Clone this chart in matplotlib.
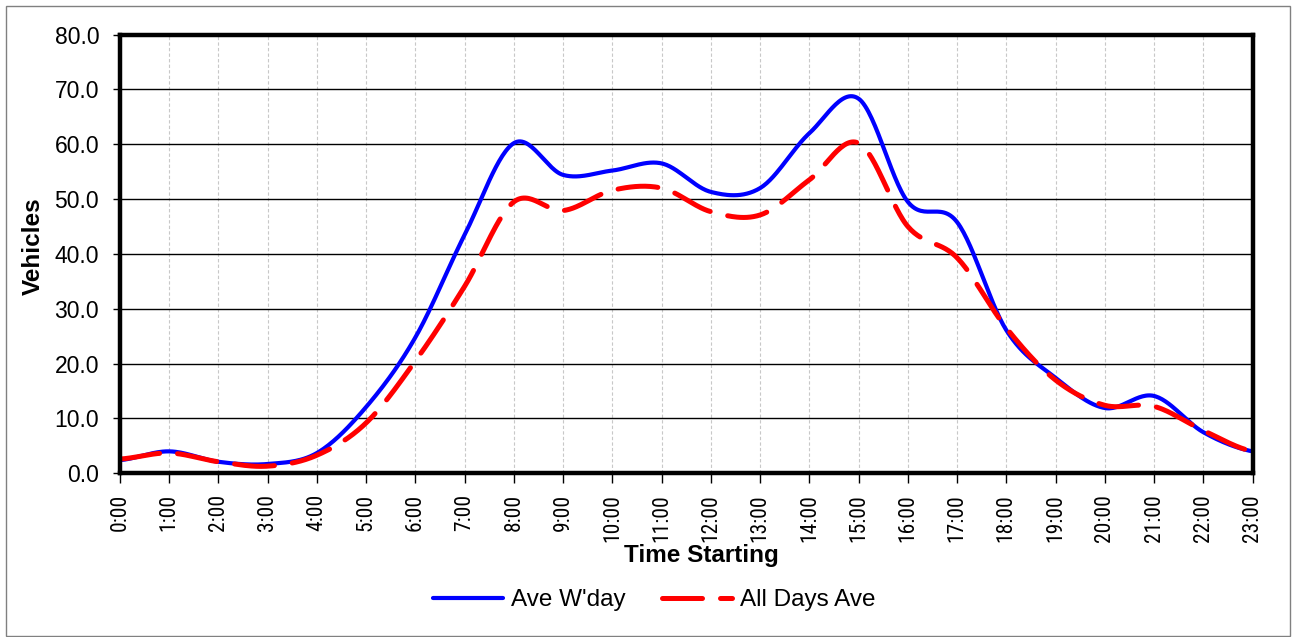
import numpy as np
import matplotlib
matplotlib.use("Agg")
import matplotlib.pyplot as plt
from matplotlib import font_manager
from matplotlib.patches import Rectangle
from matplotlib.lines import Line2D

# Hourly traffic counts (vehicles)
hours = list(range(24))
hour_labels = [f"{h}:00" for h in hours]
ave_weekday = [2.4, 4.0, 2.1, 1.7, 3.7, 12.1, 24.8, 43.5, 60.2, 54.4, 55.2, 56.5,
               51.3, 52.0, 62.0, 68.3, 49.5, 45.8, 26.1, 17.4, 11.9, 14.1, 7.5, 4.0]
all_days_ave = [2.6, 3.7, 2.1, 1.3, 3.3, 9.2, 20.5, 34.1, 49.5, 47.9, 51.6, 52.0,
                47.7, 47.1, 53.5, 60.2, 45.0, 39.3, 26.5, 17.0, 12.4, 12.2, 7.8, 4.0]

FONT = ["Liberation Sans", "DejaVu Sans"]

# pick a condensed face for the hour labels if one is installed
_installed = {f.name for f in font_manager.fontManager.ttflist}
_narrow = [n for n in ("Liberation Sans Narrow", "Arial Narrow", "Roboto Condensed",
                       "Open Sans Condensed", "DejaVu Sans Condensed") if n in _installed]
NARROW = (_narrow[:1] + FONT) if _narrow else FONT
NARROW_SIZE = 15.5 if _narrow else 13.5


def smooth(x, y, n=30):
    """Bezier curve through the points with 1/6 tangents (smoothed line)."""
    x = np.asarray(x, float)
    y = np.asarray(y, float)
    px = np.concatenate([[2 * x[0] - x[1]], x, [2 * x[-1] - x[-2]]])
    py = np.concatenate([[y[0]], y, [y[-1]]])
    xs, ys = [], []
    t = np.linspace(0, 1, n, endpoint=False)
    for i in range(1, len(px) - 2):
        x0, x1, x2, x3 = px[i - 1:i + 3]
        y0, y1, y2, y3 = py[i - 1:i + 3]
        cx1, cy1 = x1 + (x2 - x0) / 6, y1 + (y2 - y0) / 6
        cx2, cy2 = x2 - (x3 - x1) / 6, y2 - (y3 - y1) / 6
        b0 = (1 - t) ** 3
        b1 = 3 * (1 - t) ** 2 * t
        b2 = 3 * (1 - t) * t ** 2
        b3 = t ** 3
        xs.append(b0 * x1 + b1 * cx1 + b2 * cx2 + b3 * x2)
        ys.append(b0 * y1 + b1 * cy1 + b2 * cy2 + b3 * y2)
    xs.append([x[-1]])
    ys.append([y[-1]])
    return np.concatenate(xs), np.concatenate(ys)


W, H = 1292, 637
fig = plt.figure(figsize=(W / 100, H / 100), dpi=100)
fig.patch.set_facecolor("white")

# outer chart border
fig.add_artist(Rectangle((6 / W, 1 / H), (W - 8) / W, (H - 7) / H,
                         transform=fig.transFigure, fill=False,
                         edgecolor="#808080", linewidth=1.0))

left, right, top, bottom = 120, 1252.5, 34.5, 473.3
ax = fig.add_axes([left / W, (H - bottom) / H, (right - left) / W, (bottom - top) / H])

bx, by = smooth(hours, ave_weekday)
rx, ry = smooth(hours, all_days_ave)
ax.plot(bx, by, color="#0000FF", linewidth=3.0, solid_capstyle="round", zorder=3)
ax.plot(rx, ry, color="#FF0000", linewidth=3.6, dashes=(8.0, 3.6),
        dash_capstyle="round", zorder=4)

ax.set_xlim(0, 23)
ax.set_ylim(0, 80)
ax.set_yticks(np.arange(0, 81, 10))
ax.set_yticklabels([f"{v:.1f}" for v in np.arange(0, 81, 10)], fontsize=16.5, family=FONT)
ax.set_xticks(hours)
ax.set_xticklabels(hour_labels, rotation=90, fontsize=NARROW_SIZE, family=NARROW)

ax.grid(axis="y", color="black", linewidth=1.0, zorder=1)
ax.grid(axis="x", color="#c8c8c8", linewidth=0.8, linestyle=(0, (3, 2)), zorder=1)
ax.set_axisbelow(True)

for s in ax.spines.values():
    s.set_linewidth(3.2)
    s.set_color("black")
    s.set_zorder(5)

ax.tick_params(axis="y", direction="out", length=5, width=1, pad=10, colors="black")
ax.tick_params(axis="x", direction="out", length=7, width=1, pad=8, colors="black")

ax.set_ylabel("Vehicles", fontsize=17.5, fontweight="bold", family=FONT)
ax.yaxis.set_label_coords(-0.066, 0.518)
ax.set_xlabel("Time Starting", fontsize=17.5, fontweight="bold", family=FONT)
ax.xaxis.set_label_coords(0.513, -0.160)

handles = [Line2D([], [], color="#0000FF", linewidth=3.0, solid_capstyle="round"),
           Line2D([], [], color="#FF0000", linewidth=3.6, dashes=(8.0, 3.6),
                  dash_capstyle="round")]
fig.legend(handles, ["Ave W'day", "All Days Ave"], loc="center",
           bbox_to_anchor=(654 / W, 1 - 600 / H), ncol=2, frameon=False,
           prop={"family": FONT, "size": 17.5}, handlelength=2.9,
           handletextpad=0.3, columnspacing=1.5)

fig.savefig("out.png", dpi=100, facecolor="white")
